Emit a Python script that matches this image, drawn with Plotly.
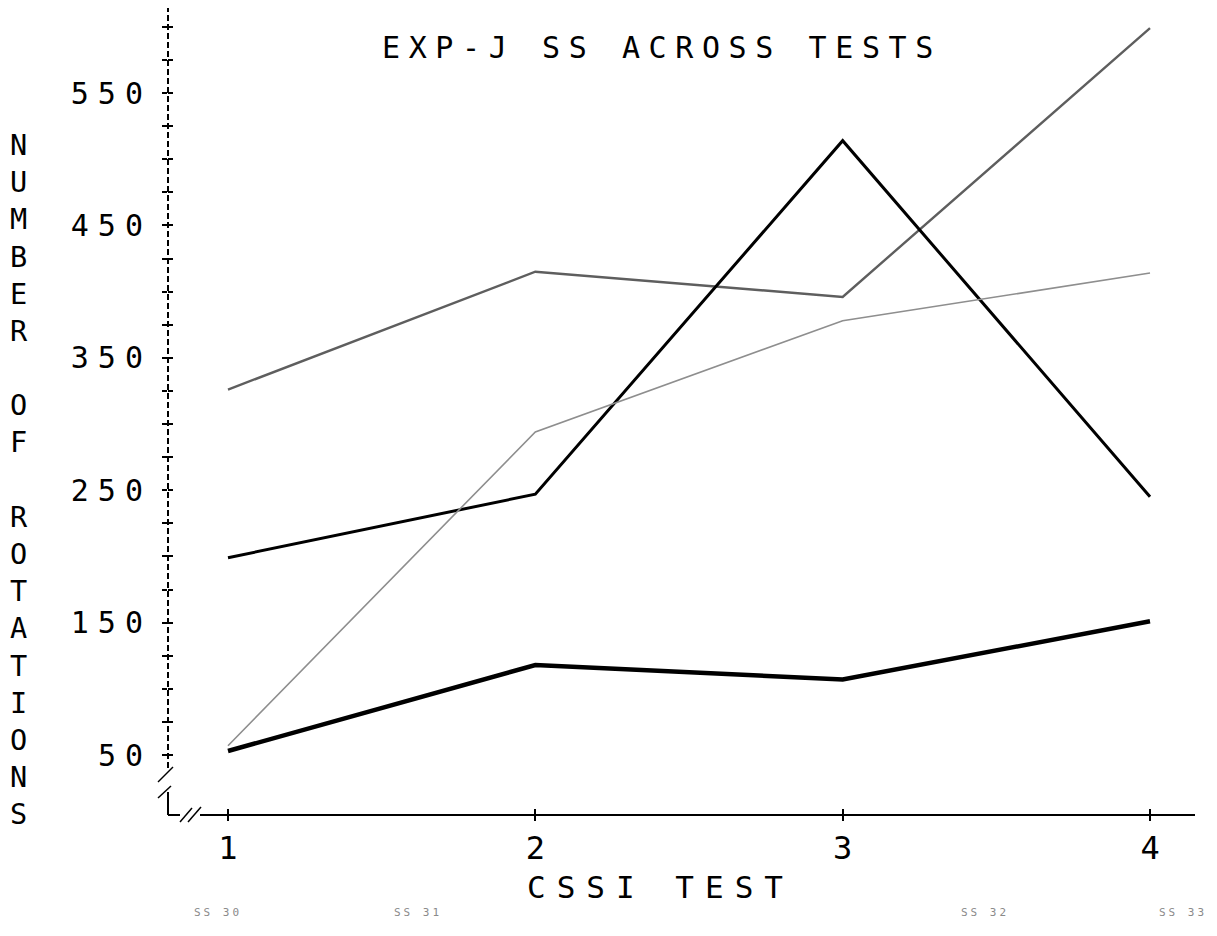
import plotly.graph_objects as go

tests = [1, 2, 3, 4]
x_ticktext = ["1", "2", "3", "4"]
ss_a = [326, 415, 396, 599]
ss_b = [199, 247, 514, 245]
ss_c = [57, 294, 378, 414]
ss_d = [53, 118, 107, 151]
series_names = ["SS 30", "SS 31", "SS 32", "SS 33"]
y_tickvals = list(range(50, 601, 25))
y_labelled = [50, 150, 250, 350, 450, 550]

FONT = "DejaVu Sans Mono"
OFF = 8  # page body margin
W, H = 1217 - OFF, 936 - OFF
ML, MR, MT, MB = 160, 22, 0, 121
PW, PH = W - ML - MR, H - MT - MB


def px(x):
    return (x - OFF - ML) / PW


def py(y):
    return (H - MB - (y - OFF)) / PH


def spaced(t, s):
    return f'<span style="letter-spacing:{s}px">{t}</span>'


fig = go.Figure()
styles = [
    (ss_a, "#5e5e5e", 2.4),
    (ss_b, "#000000", 3.0),
    (ss_c, "#8e8e8e", 1.6),
    (ss_d, "#000000", 4.5),
]
for (vals, col, w), name in zip(styles, series_names):
    fig.add_trace(go.Scatter(x=tests, y=vals, mode="lines", name=name,
                             line=dict(color=col, width=w), showlegend=False))
# empty trace to anchor the overlay axes used for the "+" tick crosses
fig.add_trace(go.Scatter(x=[], y=[], xaxis="x2", yaxis="y2", showlegend=False))

xr = [0.8048, 4.1464]
yr = [4.68, 614.2]
ytext = [spaced(str(v), 9) if v in y_labelled else "" for v in y_tickvals]

fig.update_layout(
    width=W, height=H,
    margin=dict(l=ML, r=MR, t=MT, b=MB),
    paper_bgcolor="white", plot_bgcolor="white",
    font=dict(family=FONT, color="black"),
    xaxis=dict(range=xr, tickvals=tests, ticktext=x_ticktext, ticks="outside",
               ticklen=5, tickwidth=2, tickcolor="black", showgrid=False,
               zeroline=False, showline=False, tickfont=dict(size=32),
               ticklabelstandoff=0),
    xaxis2=dict(range=xr, overlaying="x", anchor="y2", tickvals=tests,
                ticks="inside", ticklen=6, tickwidth=2, tickcolor="black",
                showticklabels=False, showgrid=False, zeroline=False,
                showline=False),
    yaxis=dict(range=yr, tickvals=y_tickvals, ticktext=ytext, ticks="outside",
               ticklen=5, tickwidth=2, tickcolor="black", showgrid=False,
               zeroline=False, showline=False, tickfont=dict(size=30),
               ticklabelstandoff=4),
    yaxis2=dict(range=yr, overlaying="y", anchor="x2", side="left",
                tickvals=y_tickvals, ticks="inside", ticklen=5, tickwidth=2,
                tickcolor="black", showticklabels=False, showgrid=False,
                zeroline=False, showline=False),
)

shapes = []
# dashed y axis with break
shapes.append(dict(type="line", xref="paper", yref="paper", x0=0, x1=0,
                   y0=py(768), y1=py(8), line=dict(color="black", width=2, dash="6px,3px")))
shapes.append(dict(type="line", xref="paper", yref="paper", x0=0, x1=0,
                   y0=py(815), y1=py(792), line=dict(color="black", width=2)))
for (x0, y0, x1, y1) in [(158, 782, 173, 767), (158, 798, 171, 786),
                         (180, 822, 192, 808), (188, 822, 201, 807)]:
    shapes.append(dict(type="line", xref="paper", yref="paper",
                       x0=px(x0), y0=py(y0), x1=px(x1), y1=py(y1),
                       line=dict(color="black", width=1.5)))
shapes.append(dict(type="line", xref="paper", yref="paper", x0=0, x1=px(180),
                   y0=0, y1=0, line=dict(color="black", width=2)))
shapes.append(dict(type="line", xref="paper", yref="paper", x0=px(200), x1=1,
                   y0=0, y1=0, line=dict(color="black", width=2)))
fig.update_layout(shapes=shapes)

ann = []
ann.append(dict(text=spaced("EXP-J SS ACROSS TESTS", 8.6), xref="paper", yref="paper",
                x=px(662), y=py(48), showarrow=False, xanchor="center", yanchor="middle",
                font=dict(size=30, family=FONT)))
ann.append(dict(text=spaced("CSSI TEST", 11), xref="paper", yref="paper",
                x=px(660), y=py(887), showarrow=False, xanchor="center", yanchor="middle",
                font=dict(size=31, family=FONT)))
vert = "<br>".join(list("NUMBER") + [""] + list("OF") + [""] + list("ROTATIONS"))
ann.append(dict(text=vert, xref="paper", yref="paper", x=px(19), y=py(479),
                showarrow=False, xanchor="center", yanchor="middle", align="center",
                font=dict(size=28.6, family=FONT)))
for name, xc in zip(series_names, [218, 418, 985, 1183]):
    ann.append(dict(text=spaced(name, 3), xref="paper", yref="paper", x=px(xc), y=py(912),
                    showarrow=False, xanchor="center", yanchor="middle",
                    font=dict(size=11, family=FONT, color="#8a8a8a")))
fig.update_layout(annotations=ann)

fig.write_html("out.html")
